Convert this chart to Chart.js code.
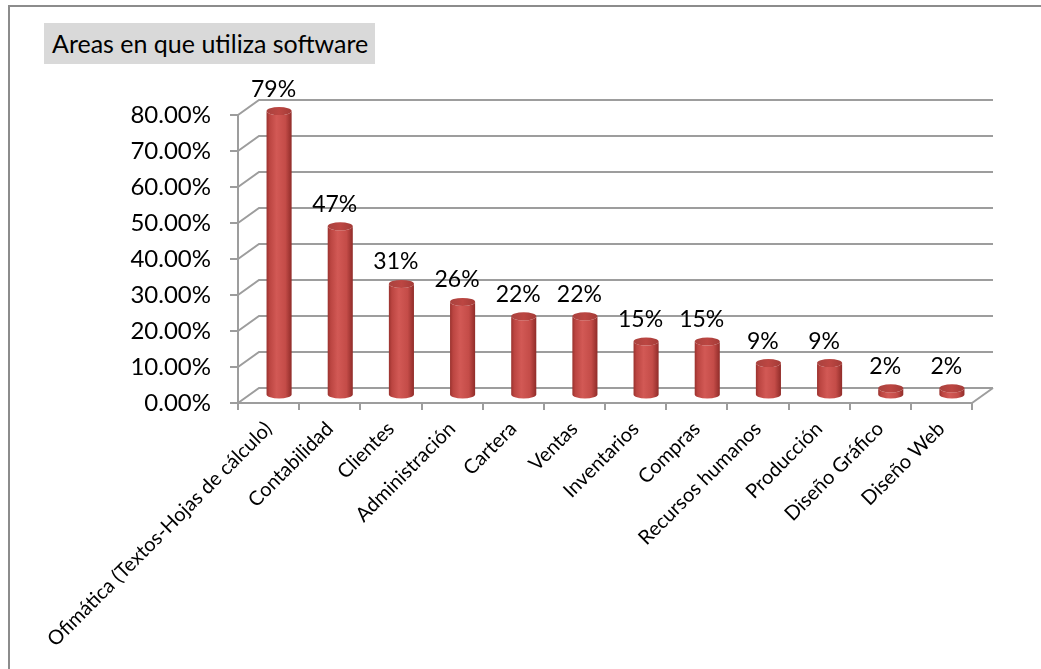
<!DOCTYPE html>
<html>
<head>
<meta charset="utf-8">
<script src="https://cdn.jsdelivr.net/npm/chart.js@4.4.1/dist/chart.umd.min.js"></script>
<style>
  html, body { margin: 0; padding: 0; background: #fff; overflow: hidden; }
  #wrap { position: relative; width: 1041px; height: 669px; overflow: hidden; }
  .edge { position: absolute; background: #8c8c8c; }
  #edgeTop { left: 8px; top: 5px; width: 1033px; height: 2px; }
  #edgeLeft { left: 8px; top: 5px; width: 2px; height: 664px; }
  #title { position: absolute; left: 44px; top: 23px; width: 331px; height: 41px; background: #d9d9d9;
           font: 25px Lato, sans-serif; color: #000; line-height: 41px; padding-left: 8px; box-sizing: border-box; white-space: nowrap; }
  #myChart { position: absolute; left: 0; top: 0; }
</style>
</head>
<body>
<div id="wrap">
  <div class="edge" id="edgeTop"></div>
  <div class="edge" id="edgeLeft"></div>
  <canvas id="myChart" width="1041" height="669"></canvas>
  <div id="title">Areas en que utiliza software</div>
</div>
<script>
const areas = ['Ofimática (Textos-Hojas de cálculo)', 'Contabilidad', 'Clientes', 'Administración', 'Cartera',
    'Ventas', 'Inventarios', 'Compras', 'Recursos humanos', 'Producción', 'Diseño Gráfico', 'Diseño Web'];
const shares = [0.79, 0.47, 0.31, 0.26, 0.22, 0.22, 0.15, 0.15, 0.09, 0.09, 0.02, 0.02];
const yTicks = [0, 0.1, 0.2, 0.3, 0.4, 0.5, 0.6, 0.7, 0.8];

// depth of the 3d box (back wall offset from the front plane)
const DX = 21;
const DY = -15;
const CAP_RY = 4;
const GRID = '#9d9d9d';
const FONT = 'Lato, sans-serif';

function drawCylinder(ctx, cx, top, base, r) {
    const body = ctx.createLinearGradient(cx - r, 0, cx + r, 0);
    body.addColorStop(0, '#9a322e');
    body.addColorStop(0.12, '#bb4541');
    body.addColorStop(0.4, '#d25955');
    body.addColorStop(0.75, '#c44c48');
    body.addColorStop(1, '#902c29');

    ctx.beginPath();
    ctx.moveTo(cx - r, top);
    ctx.lineTo(cx - r, base);
    ctx.ellipse(cx, base, r, CAP_RY, 0, Math.PI, 0, true);
    ctx.lineTo(cx + r, top);
    ctx.ellipse(cx, top, r, CAP_RY, 0, 0, Math.PI, false);
    ctx.closePath();
    ctx.fillStyle = body;
    ctx.fill();

    const cap = ctx.createLinearGradient(cx - r, 0, cx + r, 0);
    cap.addColorStop(0, '#a9423e');
    cap.addColorStop(0.5, '#bc4642');
    cap.addColorStop(1, '#a33b37');
    ctx.beginPath();
    ctx.ellipse(cx, top, r, CAP_RY, 0, 0, Math.PI * 2);
    ctx.fillStyle = cap;
    ctx.fill();
}

const box3d = {
    id: 'box3d',
    beforeDatasetsDraw(chart) {
        const { ctx, chartArea: a, scales: { y } } = chart;
        ctx.save();
        ctx.strokeStyle = GRID;
        ctx.lineWidth = 2;
        y.ticks.forEach((t) => {
            const py = y.getPixelForValue(t.value);
            ctx.beginPath();
            ctx.moveTo(a.left, py);
            ctx.lineTo(a.left + DX, py + DY);
            ctx.lineTo(a.right + DX, py + DY);
            ctx.stroke();
        });
        // right edge of the floor
        ctx.beginPath();
        ctx.moveTo(a.right, a.bottom);
        ctx.lineTo(a.right + DX, a.bottom + DY);
        ctx.stroke();
        ctx.restore();
    },
    afterDatasetsDraw(chart) {
        const { ctx } = chart;
        const meta = chart.getDatasetMeta(0);
        ctx.save();
        meta.data.forEach((bar, i) => {
            const cx = bar.x + DX / 2;
            drawCylinder(ctx, cx, bar.y + DY / 2, bar.base + DY / 2, bar.width / 2);

            ctx.fillStyle = '#000';
            ctx.font = '23px ' + FONT;
            ctx.textAlign = 'center';
            ctx.textBaseline = 'middle';
            ctx.fillText(Math.round(shares[i] * 100) + '%', bar.x + 5, bar.y + DY / 2 - 22);
        });
        ctx.restore();
    }
};

const ctx = document.getElementById('myChart');

new Chart(ctx, {
    type: 'bar',
    data: {
        labels: areas,
        datasets: [{
            data: shares,
            backgroundColor: 'rgba(0,0,0,0)',
            borderWidth: 0,
            categoryPercentage: 1,
            barPercentage: 0.41
        }]
    },
    options: {
        responsive: false,
        animation: false,
        layout: { padding: { left: 0, top: 115, right: 69, bottom: 0 } },
        plugins: {
            legend: { display: false },
            tooltip: { enabled: false }
        },
        scales: {
            x: {
                grid: { display: true, drawOnChartArea: false, drawTicks: true, tickLength: 7, color: GRID, lineWidth: 2 },
                border: { display: true, color: GRID, width: 2 },
                ticks: {
                    autoSkip: false, maxRotation: 45, minRotation: 45, padding: 7,
                    color: '#000', font: { family: FONT, size: 20 }
                },
                afterFit(scale) { scale.height = 266; }
            },
            y: {
                min: 0,
                max: 0.8,
                afterBuildTicks(scale) { scale.ticks = yTicks.map((v) => ({ value: v })); },
                grid: { display: true, drawOnChartArea: false, drawTicks: true, tickLength: 8, color: GRID, lineWidth: 2 },
                border: { display: true, color: GRID, width: 2 },
                ticks: {
                    padding: 19, color: '#000', font: { family: FONT, size: 24 },
                    callback: (v) => (v * 100).toFixed(2) + '%'
                },
                afterFit(scale) { scale.width = 238; }
            }
        }
    },
    plugins: [box3d]
});
</script>
</body>
</html>
